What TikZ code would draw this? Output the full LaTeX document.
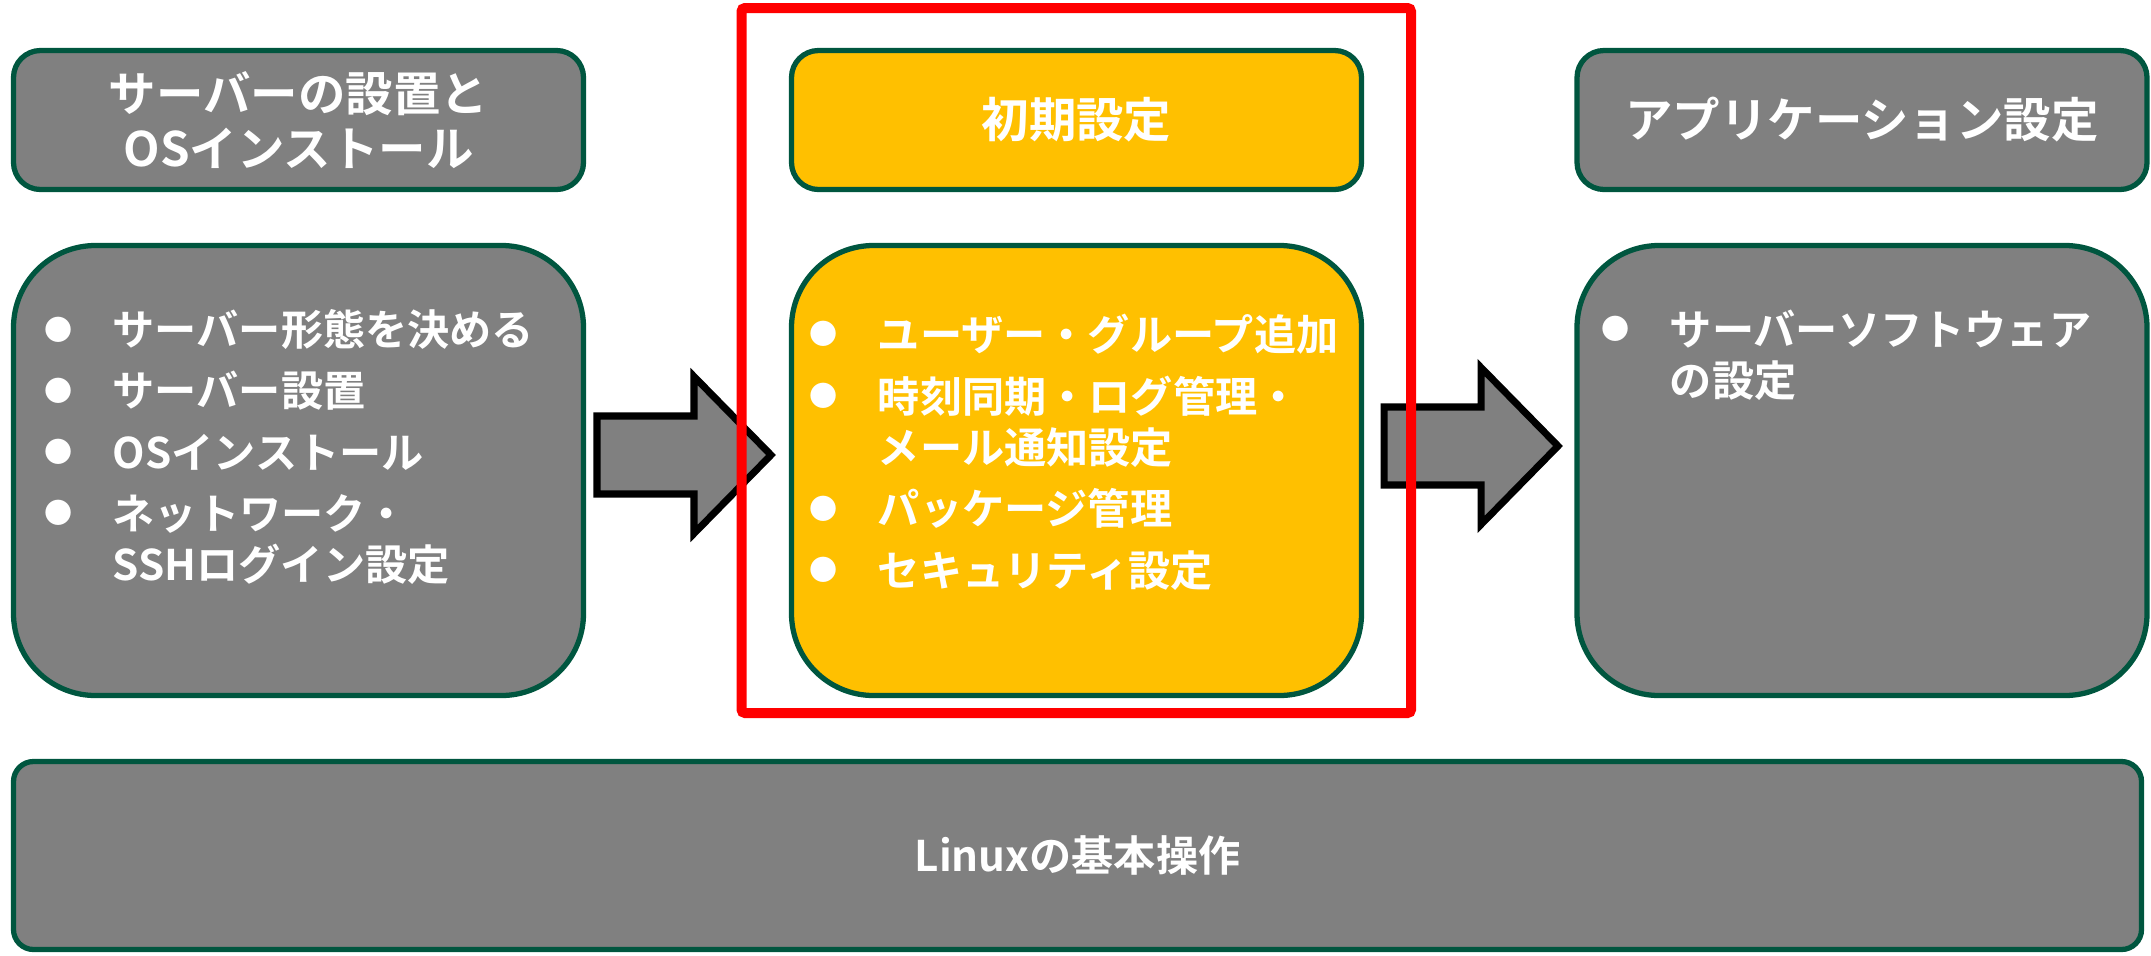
\documentclass[tikz,border=0pt]{standalone}
\usepackage{fontspec}
\setmainfont{Noto Sans CJK JP}[BoldFont={Noto Sans CJK JP Bold}]
\usepackage{tikz}
\usetikzlibrary{calc}

\definecolor{boxgray}{HTML}{808080}
\definecolor{boxedge}{HTML}{00563F}
\definecolor{stepyellow}{HTML}{FFC000}
\definecolor{framered}{HTML}{FF0000}

\newcommand{\bul}{\raisebox{1.6pt}{\fontsize{8pt}{8pt}\selectfont ●}}

\tikzset{
  headbox/.style={draw=boxedge, line width=1.5pt, rounded corners=0.27cm,
    minimum width=5.70cm, minimum height=1.39cm, inner sep=0pt,
    text=white, align=center, font=\bfseries\fontsize{13.5pt}{15.6pt}\selectfont},
  bodybox/.style={draw=boxedge, line width=1.5pt, rounded corners=0.82cm,
    minimum width=5.70cm, minimum height=4.50cm, inner sep=0pt},
  itemlist/.style={anchor=north west, inner sep=0pt, text=white,
    font=\bfseries\fontsize{12pt}{14.5pt}\selectfont},
  blockarrow/.style={draw=black, line width=2pt, fill=boxgray}
}

\begin{document}
\begin{tikzpicture}
    \useasboundingbox (0,0) rectangle (21.51,-9.55);
    % step boxes
    \node[headbox, fill=boxgray] (inst) at (2.985,-1.20) {サーバーの設置と\\OSインストール};
    \node[bodybox, fill=boxgray] (instbody) at (2.985,-4.705) {};
    \node[headbox, fill=stepyellow] (init) at (10.765,-1.20) {初期設定};
    \node[bodybox, fill=stepyellow] (initbody) at (10.765,-4.705) {};
    \node[headbox, fill=boxgray] (app) at (18.62,-1.20) {アプリケーション設定};
    \node[bodybox, fill=boxgray] (appbody) at (18.62,-4.705) {};
    \node[draw=boxedge, line width=1.5pt, rounded corners=0.2cm, fill=boxgray,
        minimum width=21.28cm, minimum height=1.88cm, text=white,
        font=\bfseries\fontsize{12pt}{14.5pt}\selectfont] (basic) at (10.775,-8.555) {Linuxの基本操作};

    % block arrows
    \coordinate (arrA) at (5.97,-4.55);
    \coordinate (arrB) at (13.84,-4.46);
    \foreach \c in {arrA,arrB}
        \draw[blockarrow] (\c) -- ++(0,0.39) -- ++(0.97,0) -- ++(0,0.395) -- ++(0.77,-0.785)
            -- ++(-0.77,-0.785) -- ++(0,0.395) -- ++(-0.97,0) -- cycle;

    % highlight
    \draw[framered, line width=0.1cm, rounded corners=1pt] (7.415,-0.08) rectangle (14.11,-7.13);

    % lists
    \node[itemlist] (instlist) at (0.44,-3.09) {%
        \renewcommand{\arraystretch}{1}%
        \begin{tabular}{@{}l@{\hspace{0.4cm}}l@{}}
        \bul & サーバー形態を決める\\[2.9pt]
        \bul & サーバー設置\\[2.9pt]
        \bul & OSインストール\\[2.9pt]
        \bul & ネットワーク・\\
             & SSHログイン設定
        \end{tabular}};
    \node[itemlist] (initlist) at (8.09,-3.13) {%
        \renewcommand{\arraystretch}{1}%
        \begin{tabular}{@{}l@{\hspace{0.4cm}}l@{}}
        \bul & ユーザー・グループ追加\\[2.9pt]
        \bul & 時刻同期・ログ管理・\\
             & メール通知設定\\[2.9pt]
        \bul & パッケージ管理\\[2.9pt]
        \bul & セキュリティ設定
        \end{tabular}};
    \node[itemlist] (applist) at (16.01,-3.09) {%
        \renewcommand{\arraystretch}{1}%
        \begin{tabular}{@{}l@{\hspace{0.4cm}}l@{}}
        \bul & サーバーソフトウェア\\
             & の設定
        \end{tabular}};
\end{tikzpicture}
\end{document}
